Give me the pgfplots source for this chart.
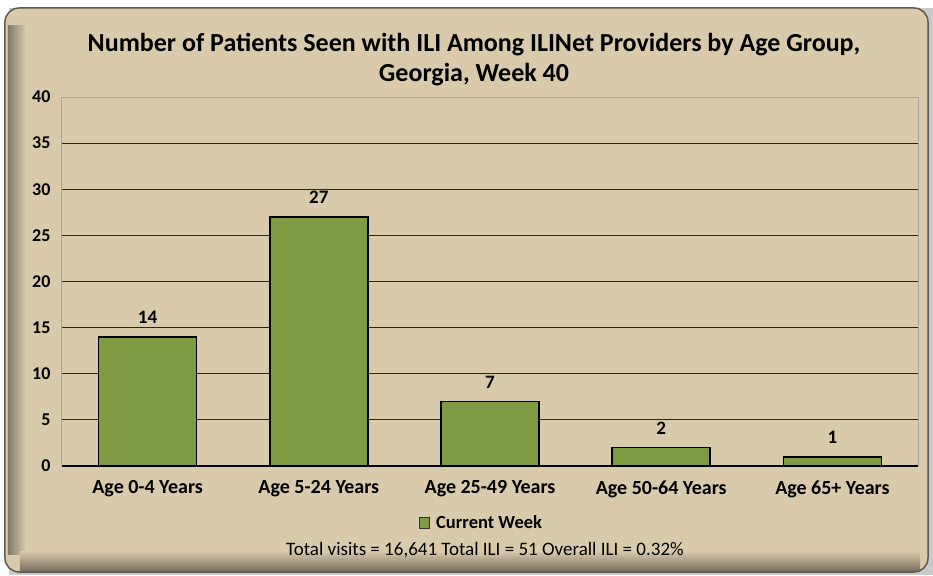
\documentclass[border=0pt]{standalone}
\usepackage{pgfplots}
\pgfplotsset{compat=1.18}
\usepackage{fontspec}
\setmainfont{Carlito}
\definecolor{bgtan}{HTML}{D9CAAB}
\definecolor{bargreen}{HTML}{7E9A42}
\definecolor{framegray}{HTML}{5F5B50}
\pgfdeclarelayer{bg}
\pgfsetlayers{bg,main}
\begin{document}
\begin{tikzpicture}
\begin{axis}[
  name=ax,
  at={(0pt,0pt)}, anchor=south west,
  scale only axis, width=856pt, height=369pt,
  xmin=-0.5, xmax=4.5, ymin=0, ymax=40,
  ytick={0,5,...,40},
  xtick=data,
  xticklabels={Age 0-4 Years, Age 5-24 Years, Age 25-49 Years, Age 50-64 Years, Age 65+ Years},
  xticklabel style={font=\fontsize{20}{22}\selectfont\bfseries, yshift=-11pt},
  yticklabel style={font=\fontsize{18}{20}\selectfont\bfseries, xshift=-8pt},
  /pgf/number format/assume math mode=true,
  major tick length=0pt,
  ymajorgrids, grid style={black!85, line width=0.9pt},
  axis line style={draw=none},
  axis background/.style={fill=bgtan},
  ybar, bar width=98pt,
  nodes near coords,
  every node near coord/.append style={font=\fontsize{19}{21}\selectfont\bfseries, yshift=9pt},
  legend style={at={(0.49,-0.155)}, anchor=center, draw=none, fill=none, font=\fontsize{18.5}{20}\selectfont\bfseries, inner sep=0pt},
  legend image code/.code={\draw[black!80, fill=bargreen, line width=1pt] (0pt,-5pt) rectangle (10pt,6pt); \path (14pt,0pt);},
  clip=false,
]
\draw[black!35, line width=1pt] (rel axis cs:0,0) -- (rel axis cs:0,1) -- (rel axis cs:1,1) -- (rel axis cs:1,0);
\draw[black, line width=1.2pt] (rel axis cs:0,0) -- (rel axis cs:1,0);
\addplot[fill=bargreen, draw=black, line width=1.6pt] coordinates {(0,14) (1,27) (2,7) (3,2) (4,1)};
\legend{Current Week}
\end{axis}
\begin{scope}[shift={(ax.south west)}, x=1pt, y=1pt]
\begin{pgfonlayer}{bg}
\fill[black!35, opacity=0.6] (-53,-109) rectangle (871,458);
\fill[bgtan, rounded corners=14pt] (-57,-106) rectangle (866,458);
\shade[left color=black!40!bgtan, right color=bgtan] (-54,-88) rectangle (-36,440);
\shade[bottom color=black!45!bgtan, top color=bgtan] (-42,-105) rectangle (858,-85);
\draw[framegray, line width=1.5pt, rounded corners=14pt] (-57,-106) rectangle (866,458);
\end{pgfonlayer}
\node[font=\fontsize{26}{30}\selectfont\bfseries, align=center] at (412,406) {Number of Patients Seen with ILI Among ILINet Providers by Age Group,\\Georgia, Week 40};
\node[font=\fontsize{19}{21}\selectfont] at (423,-84) {Total visits = 16,641 Total ILI = 51 Overall ILI = 0.32\%};
\path (-62,-109) rectangle (871,466);
\end{scope}
\end{tikzpicture}
\end{document}
